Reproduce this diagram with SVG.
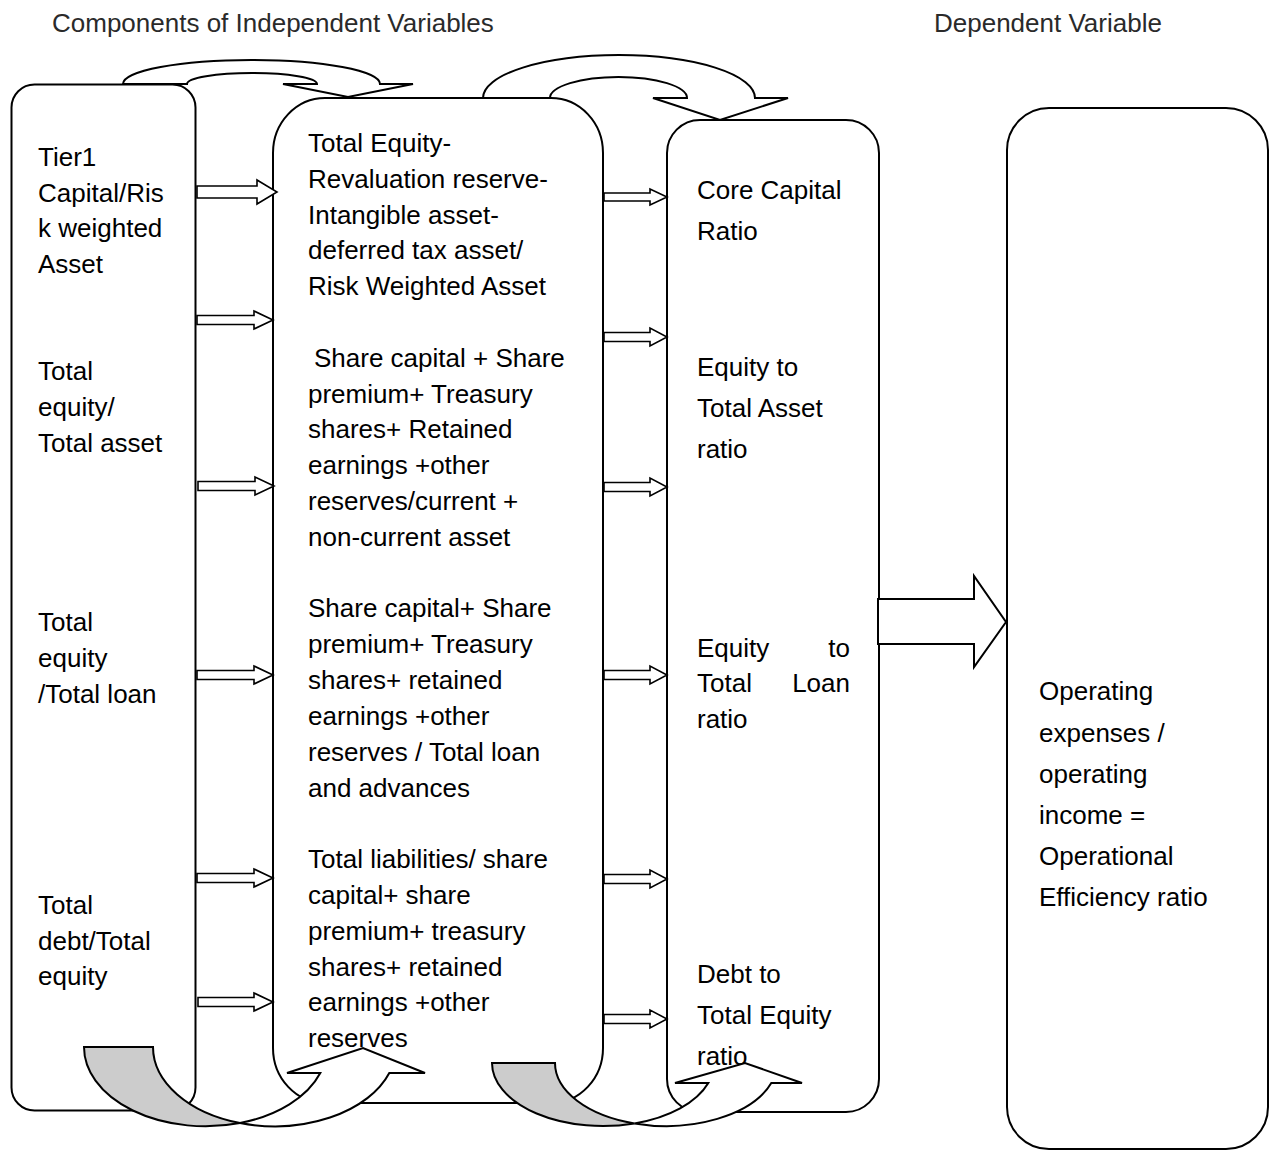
<svg xmlns="http://www.w3.org/2000/svg" width="1274" height="1151" viewBox="0 0 1274 1151">
<style>
  .box{fill:#fff;stroke:#000;stroke-width:2}
  .t{font-family:"Liberation Sans",Arial,sans-serif;font-size:26px;fill:#000}
  .h{font-family:"Liberation Sans",Arial,sans-serif;font-size:26px;fill:#2a2a2a}
  .ba{fill:#fff;stroke:#000;stroke-width:1.6;stroke-linejoin:miter}
  .ca{fill:#fff;stroke:#000;stroke-width:2;stroke-linejoin:miter}
  .cg{fill:#cccccc;stroke:#000;stroke-width:2;stroke-linejoin:miter}
</style>
<rect width="1274" height="1151" fill="#fff"/>
<g id="headers">
  <text class="h" x="52" y="32">Components of Independent Variables</text>
  <text class="h" x="934" y="32">Dependent Variable</text>
</g>
<g id="node-components-left">
  <rect class="box" x="11.5" y="84.5" width="184" height="1026" rx="23" ry="23"/>
  <text class="t" x="38" y="166">Tier1</text>
  <text class="t" x="38" y="202">Capital/Ris</text>
  <text class="t" x="38" y="237">k weighted</text>
  <text class="t" x="38" y="273">Asset</text>
  <text class="t" x="38" y="380">Total</text>
  <text class="t" x="38" y="416">equity/</text>
  <text class="t" x="38" y="452">Total asset</text>
  <text class="t" x="38" y="631">Total</text>
  <text class="t" x="38" y="667">equity</text>
  <text class="t" x="38" y="703">/Total loan</text>
  <text class="t" x="38" y="914">Total</text>
  <text class="t" x="38" y="950">debt/Total</text>
  <text class="t" x="38" y="985">equity</text>
</g>
<g id="node-formulas">
  <rect class="box" x="273" y="98" width="330" height="1005" rx="52" ry="55"/>
  <text class="t" x="308" y="152">Total Equity-</text>
  <text class="t" x="308" y="188">Revaluation reserve-</text>
  <text class="t" x="308" y="224">Intangible asset-</text>
  <text class="t" x="308" y="259">deferred tax asset/</text>
  <text class="t" x="308" y="295">Risk Weighted Asset</text>
  <text class="t" x="314" y="367">Share capital + Share</text>
  <text class="t" x="308" y="403">premium+ Treasury</text>
  <text class="t" x="308" y="438">shares+ Retained</text>
  <text class="t" x="308" y="474">earnings +other</text>
  <text class="t" x="308" y="510">reserves/current +</text>
  <text class="t" x="308" y="546">non-current asset</text>
  <text class="t" x="308" y="617">Share capital+ Share</text>
  <text class="t" x="308" y="653">premium+ Treasury</text>
  <text class="t" x="308" y="689">shares+ retained</text>
  <text class="t" x="308" y="725">earnings +other</text>
  <text class="t" x="308" y="761">reserves / Total loan</text>
  <text class="t" x="308" y="797">and advances</text>
  <text class="t" x="308" y="868">Total liabilities/ share</text>
  <text class="t" x="308" y="904">capital+ share</text>
  <text class="t" x="308" y="940">premium+ treasury</text>
  <text class="t" x="308" y="976">shares+ retained</text>
  <text class="t" x="308" y="1011">earnings +other</text>
  <text class="t" x="308" y="1047">reserves</text>
</g>
<g id="node-ratios">
  <rect class="box" x="667" y="120" width="212" height="992" rx="33" ry="33"/>
  <text class="t" x="697" y="199">Core Capital</text>
  <text class="t" x="697" y="240">Ratio</text>
  <text class="t" x="697" y="376">Equity to</text>
  <text class="t" x="697" y="417">Total Asset</text>
  <text class="t" x="697" y="458">ratio</text>
  <text class="t" x="697" y="657">Equity</text>
  <text class="t" x="850" y="657" text-anchor="end">to</text>
  <text class="t" x="697" y="692">Total</text>
  <text class="t" x="850" y="692" text-anchor="end">Loan</text>
  <text class="t" x="697" y="728">ratio</text>
  <text class="t" x="697" y="983">Debt to</text>
  <text class="t" x="697" y="1024">Total Equity</text>
  <text class="t" x="697" y="1065">ratio</text>
</g>
<g id="node-dependent">
  <rect class="box" x="1007" y="108" width="261" height="1041" rx="42" ry="42"/>
  <text class="t" x="1039" y="700">Operating</text>
  <text class="t" x="1039" y="742">expenses /</text>
  <text class="t" x="1039" y="783">operating</text>
  <text class="t" x="1039" y="824">income =</text>
  <text class="t" x="1039" y="865">Operational</text>
  <text class="t" x="1039" y="906">Efficiency ratio</text>
</g>
<g id="connectors">
  <!-- left column block arrows -->
  <path class="ba" d="M197,186 H257 V180 L277,192 L257,204 V198 H197 Z"/>
  <path class="ba" d="M197,315.5 H254 V311 L273,320 L254,329 V324.5 H197 Z"/>
  <path class="ba" d="M198,481.5 H255 V477 L274,486 L255,495 V490.5 H198 Z"/>
  <path class="ba" d="M197,670.5 H254 V666 L273,675 L254,684 V679.5 H197 Z"/>
  <path class="ba" d="M197,873.5 H254 V869 L273,878 L254,887 V882.5 H197 Z"/>
  <path class="ba" d="M198,997.5 H254 V993 L273,1002 L254,1011 V1006.5 H198 Z"/>
  <!-- right column block arrows -->
  <path class="ba" d="M604,193 H650 V189 L667,197 L650,205 V201 H604 Z"/>
  <path class="ba" d="M604,332.5 H650 V328 L667,337 L650,346 V341.5 H604 Z"/>
  <path class="ba" d="M604,482.5 H650 V478 L667,487 L650,496 V491.5 H604 Z"/>
  <path class="ba" d="M604,670.5 H650 V666 L667,675 L650,684 V679.5 H604 Z"/>
  <path class="ba" d="M604,874.5 H650 V870 L667,879 L650,888 V883.5 H604 Z"/>
  <path class="ba" d="M604,1014.5 H650 V1010 L667,1019 L650,1028 V1023.5 H604 Z"/>
  <!-- big arrow to dependent variable -->
  <path class="ca" d="M878,599 H974 V576 L1006,622 L974,667 V644 H878 Z"/>
  <!-- top curved arrows -->
  <path class="ca" d="M123,84 A128.5,24 0 0 1 380,84 L413,84 L348,97 L283,84 L317,84 A65,11 0 0 0 187,84 Z"/>
  <path class="ca" d="M483,98 A136,43 0 0 1 755,98 L788,98 L720,120 L653,98 L687,98 A68.5,21 0 0 0 550,98 Z"/>
  <!-- bottom curved arrows -->
  <path class="cg" d="M84,1047 L153,1047 A121.5,79.3 0 0 0 240,1123 A121.5,79.3 0 0 1 84,1047 Z"/>
  <path class="ca" d="M240,1123 A121.5,79.3 0 0 0 320.3,1073 L287,1073 L363,1048 L425,1073 L389.3,1073 A121.5,79.3 0 0 1 240,1123 Z"/>
  <path class="cg" d="M492,1063 L555,1063 A111,63 0 0 0 634.5,1123.4 A111,63 0 0 1 492,1063 Z"/>
  <path class="ca" d="M634.5,1123.4 A111,63 0 0 0 708.3,1083 L675,1083 L745,1063 L802,1083 L771.3,1083 A111,63 0 0 1 634.5,1123.4 Z"/>
</g>
</svg>
